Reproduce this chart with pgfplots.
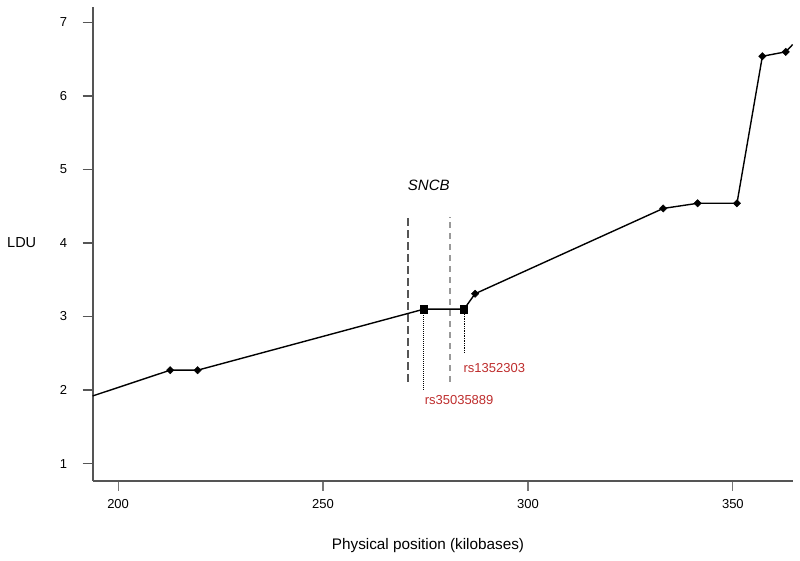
\documentclass[border=0pt]{standalone}
\usepackage{pgfplots}
\pgfplotsset{compat=1.18}
\usepackage{fontspec}
\setmainfont{Liberation Sans}
\usetikzlibrary{calc}
\definecolor{axgray}{RGB}{85,85,85}
\definecolor{snpred}{RGB}{190,45,45}
\begin{document}
\begin{tikzpicture}
\begin{axis}[name=ax,
  scale only axis, width=700pt, height=474pt,
  xmin=193.8, xmax=364.6, ymin=0.763, ymax=7.21,
  axis x line*=bottom, axis y line*=left,
  axis line style={axgray, line width=2.2pt, -},
  x axis line style={line width=2.4pt},
  xtick={200,250,300,350}, ytick={1,2,3,4,5,6,7},
  tick align=outside, major tick length=10pt,
  ytick style={axgray, line width=1.5pt},
  xtick style={axgray!80, line width=1.2pt},
  /pgf/number format/assume math mode=true,
  tick label style={font=\fontsize{13}{15}\selectfont},
  yticklabel style={xshift=-12pt},
  xticklabel style={yshift=-5pt},
  xlabel={Physical position (kilobases)},
  ylabel={LDU},
  xlabel style={font=\fontsize{15.3}{17}\selectfont, at={(axis description cs:0.479,-0.137)}, anchor=center},
  ylabel style={font=\fontsize{14.5}{16}\selectfont, at={(axis description cs:-0.1014,0.502)}, anchor=center, rotate=-90},
  clip=false,
]
% SNCB gene boundaries
\addplot[color=axgray, line width=2pt, dash pattern=on 8pt off 4pt] coordinates {(270.8,2.11) (270.8,4.36)};
\addplot[color=gray!80, line width=1.2pt, dash pattern=on 6pt off 5pt] coordinates {(281.0,2.11) (281.0,4.36)};
% dotted SNP markers
\addplot[black, line width=1pt, densely dotted] coordinates {(274.6,3.1) (274.6,2.0)};
\addplot[black, line width=0.7pt, densely dotted] coordinates {(284.4,3.1) (284.4,2.5)};
% main LDU line
\addplot[black, line width=1.4pt] coordinates {
(193.8,1.92) (212.7,2.27) (219.4,2.27) (274.6,3.10) (284.4,3.10) (287.1,3.31)
(333.0,4.47) (341.4,4.54) (351.0,4.54) (357.2,6.54) (362.9,6.60) (364.6,6.70)};
% diamond markers
\addplot[only marks, mark=square*, mark size=2.6pt, mark options={rotate=45}, black] coordinates {
(212.7,2.27) (219.4,2.27) (287.1,3.31) (333.0,4.47) (341.4,4.54) (351.0,4.54) (357.2,6.54) (362.9,6.60)};
% square markers
\addplot[only marks, mark=square*, mark size=3.6pt, black] coordinates {(274.6,3.10) (284.4,3.10)};
\node[font=\fontsize{15}{17}\selectfont\itshape] at (axis cs:275.8,4.78) {SNCB};
\node[font=\fontsize{13}{15}\selectfont, text=snpred] at (axis cs:283.2,1.86) {rs35035889};
\node[font=\fontsize{13}{15}\selectfont, text=snpred] at (axis cs:291.8,2.30) {rs1352303};
\end{axis}
\pgfresetboundingbox
\path[use as bounding box] ($(ax.south west)+(-92.7pt,-80pt)$) rectangle ++(800pt,561pt);
\end{tikzpicture}
\end{document}
